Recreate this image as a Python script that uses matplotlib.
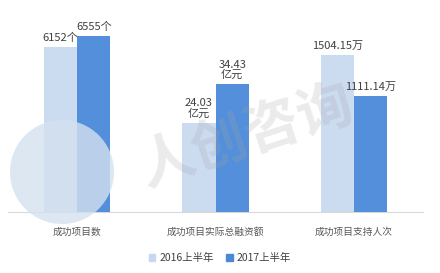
import matplotlib
matplotlib.use("Agg")
import matplotlib.pyplot as plt
from matplotlib.patches import Ellipse, Rectangle
import numpy as np

plt.rcParams['font.family'] = ['Noto Sans CJK SC', 'DejaVu Sans']

categories = ["成功项目数", "成功项目实际总融资额", "成功项目支持人次"]
series_names = ["2016上半年", "2017上半年"]
values_2016 = [6152, 24.03, 1504.15]
values_2017 = [6555, 34.43, 1111.14]
labels_2016 = ["6152个", "24.03\n亿元", "1504.15万"]
labels_2017 = ["6555个", "34.43\n亿元", "1111.14万"]
# each category has its own unit, so each is drawn on its own value axis
axis_max = [7450, 53.8, 1915]

c16 = "#c6d7ef"
c17 = "#4a89d8"

W, H = 440, 273
fig = plt.figure(figsize=(W / 100, H / 100), dpi=100)
left, right = 8 / W, 423 / W
bottom, top = 1 - 212 / H, 1 - 12 / H
pos = [left, bottom, right - left, top - bottom]

base = fig.add_axes(pos)
base.set_xlim(-0.5, len(categories) - 0.5)
base.set_ylim(0, 1)
base.set_yticks([])
for s in ["left", "right", "top"]:
    base.spines[s].set_visible(False)
base.spines["bottom"].set_color("#d9d9d9")
base.spines["bottom"].set_linewidth(0.8)
base.set_xticks(range(len(categories)))
base.set_xticklabels(categories, fontsize=7, color="#595959")
base.tick_params(axis="x", length=0, pad=11)
base.patch.set_alpha(0)

# watermark (background)
fig.patches.append(Ellipse((62 / W, 1 - 172 / H), 104 / W, 104 / H, transform=fig.transFigure,
                           facecolor="#d5e1ef", edgecolor="none", alpha=0.8, zorder=0))
fig.text(0.56, 0.50, "人创咨询", fontsize=40, color="#a6a6a6", alpha=0.22,
         rotation=18, ha="center", va="center", zorder=0, fontweight="bold")

w = 0.24
for i in range(len(categories)):
    ax = fig.add_axes(pos, sharex=base)
    ax.set_ylim(0, axis_max[i])
    ax.axis("off")
    ax.patch.set_alpha(0)
    ax.bar(i - w / 2, values_2016[i], width=w, color=c16, alpha=0.9)
    ax.bar(i + w / 2, values_2017[i], width=w, color=c17, alpha=0.95)
    ax.annotate(labels_2016[i], (i - w / 2, values_2016[i]), xytext=(0, 3),
                textcoords="offset points", ha="center", va="bottom",
                fontsize=8, color="#404040", linespacing=1.0)
    ax.annotate(labels_2017[i], (i + w / 2, values_2017[i]), xytext=(0, 3),
                textcoords="offset points", ha="center", va="bottom",
                fontsize=8, color="#404040", linespacing=1.0)

# legend
handles = [Rectangle((0, 0), 1, 1, color=c16), Rectangle((0, 0), 1, 1, color=c17)]
fig.legend(handles, series_names, loc="center", bbox_to_anchor=(0.5, 1 - 258 / H),
           ncol=2, frameon=False, fontsize=7.5, handlelength=0.6, handleheight=0.6,
           handletextpad=0.4, columnspacing=1.2, labelcolor="#404040")

fig.savefig("out.png", dpi=100)
